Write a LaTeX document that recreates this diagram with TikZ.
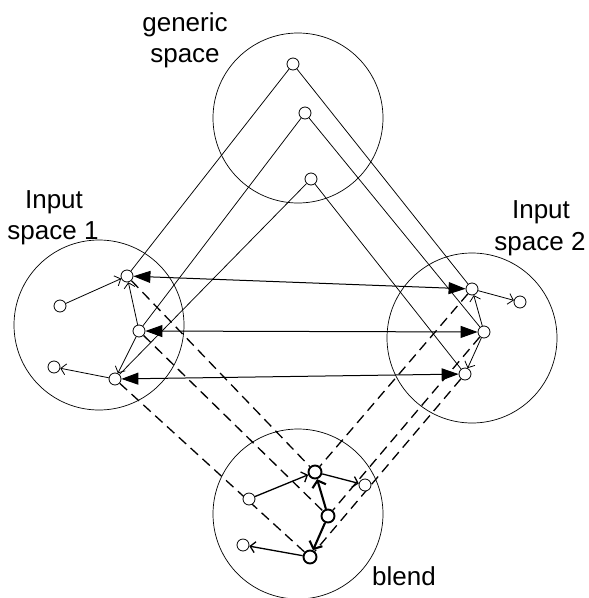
\documentclass[tikz,border=0pt]{standalone}
\usepackage{fontspec}
\setmainfont{Liberation Sans}
\usetikzlibrary{arrows.meta,backgrounds}
\begin{document}
\begin{tikzpicture}[x=1pt,y=-1pt,
  spacecircle/.style={circle,draw,line width=0.7pt,inner sep=0pt,minimum size=170pt},
  elem/.style={circle,draw,fill=white,inner sep=0pt,minimum size=12pt,line width=0.8pt},
  boldelem/.style={elem,line width=1.9pt,minimum size=13pt},
  lbl/.style={font=\fontsize{26}{30}\selectfont,anchor=base,inner sep=0pt},
  proj/.style={line width=0.75pt},
  rel/.style={line width=0.8pt,-{Straight Barb[length=5pt,width=11pt]}},
  blendrel/.style={line width=1.3pt,-{Straight Barb[length=5pt,width=11pt]}},
  heavyrel/.style={line width=2.1pt,-{Straight Barb[length=6pt,width=14pt]}},
  crossmap/.style={line width=1pt,{Triangle[length=17pt,width=12pt]}-{Triangle[length=17pt,width=12pt]}},
  blendmap/.style={line width=1.3pt,dash pattern=on 10pt off 6pt}
]
\useasboundingbox (0,0) rectangle (589,598);

% the four mental spaces
\node[spacecircle] (generic) at (298,118) {};
\node[spacecircle] (inone)   at (99,325)  {};
\node[spacecircle] (intwo)   at (472,338) {};
\node[spacecircle] (blend)   at (298,514) {};

% labels
\node[lbl] (genA) at (185,31)  {generic};
\node[lbl] (genB) at (185,62)  {space};
\node[lbl] (inoneA) at (54,208) {Input};
\node[lbl] (inoneB) at (53,239) {space 1};
\node[lbl] (intwoA) at (541,218) {Input};
\node[lbl] (intwoB) at (540,250) {space 2};
\node[lbl] (blendA) at (404,585) {blend};

% generic space elements
\node[elem] (g1) at (293,64)  {};
\node[elem] (g2) at (305,113) {};
\node[elem] (g3) at (311,179) {};

% input space 1 elements
\node[elem] (a1) at (127,276) {};
\node[elem] (a2) at (139,331) {};
\node[elem] (a3) at (115,379) {};
\node[elem] (a4) at (60,306)  {};
\node[elem] (a5) at (54,367)  {};

% input space 2 elements
\node[elem] (b1) at (472,289) {};
\node[elem] (b2) at (484,332) {};
\node[elem] (b3) at (465,374) {};
\node[elem] (b4) at (520,302) {};

% blended space elements
\node[boldelem] (c1) at (315,472) {};
\node[elem]     (c2) at (365,485) {};
\node[elem]     (c3) at (249,499) {};
\node[boldelem] (c4) at (328,516) {};
\node[boldelem] (c5) at (310,557) {};
\node[elem]     (c6) at (243,545) {};

\begin{pgfonlayer}{background}
  % projections from the generic space
  \draw[proj] (g1) -- (a1);
  \draw[proj] (g1) -- (b1);
  \draw[proj] (g2) -- (a2);
  \draw[proj] (g2) -- (b2);
  \draw[proj] (g3) -- (a3);
  \draw[proj] (g3) -- (b3);

  % cross-space mappings
  \draw[crossmap] (a1) -- (b1);
  \draw[crossmap] (a2) -- (b2);
  \draw[crossmap] (a3) -- (b3);

  % projections into the blend
  \draw[blendmap] (a1) -- (c1);
  \draw[blendmap] (a2) -- (c4);
  \draw[blendmap] (a3) -- (c5);
  \draw[blendmap] (b1) -- (c1);
  \draw[blendmap] (b2) -- (c4);
  \draw[blendmap] (b3) -- (c5);

  % relations inside input space 1
  \draw[rel] (a4) -- (a1);
  \draw[rel] (a2) -- (a1);
  \draw[rel] (a2) -- (a3);
  \draw[rel] (a3) -- (a5);

  % relations inside input space 2
  \draw[rel] (b1) -- (b4);
  \draw[rel] (b2) -- (b1);
  \draw[rel] (b2) -- (b3);

  % relations inside the blend
  \draw[blendrel] (c3) -- (c1);
  \draw[blendrel] (c1) -- (c2);
  \draw[blendrel] (c5) -- (c6);
  \draw[heavyrel] (c4) -- (c1);
  \draw[heavyrel] (c4) -- (c5);
\end{pgfonlayer}
\end{tikzpicture}
\end{document}
